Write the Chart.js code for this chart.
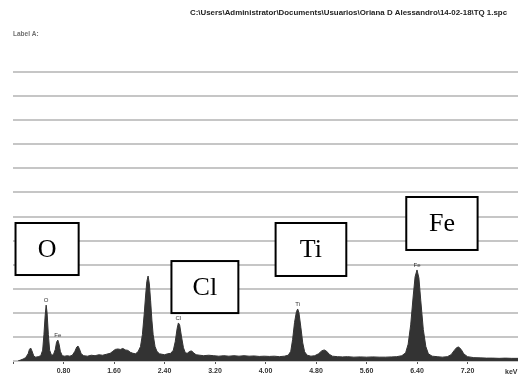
<!DOCTYPE html>
<html>
<head>
<meta charset="utf-8">
<script src="https://cdn.jsdelivr.net/npm/chart.js@4/dist/chart.umd.min.js"></script>
<style>
    body { margin: 0; background: #fff; }
    canvas { display: block; }
</style>
</head>
<body>
<canvas id="spectrum" width="518" height="376"></canvas>
<script>
// spectrum (keV / counts)
const energyKeV = [
    0.08, 0.12, 0.16, 0.20, 0.24, 0.26, 0.28, 0.30, 0.33, 0.36, 0.40, 0.44, 0.47, 0.49, 0.51, 0.525, 0.54, 0.56, 0.58,
    0.61, 0.64, 0.67, 0.69, 0.71, 0.73, 0.75, 0.78, 0.82, 0.86, 0.90, 0.94, 0.98, 1.01, 1.03, 1.05, 1.08, 1.12,
    1.18, 1.24, 1.30, 1.36, 1.42, 1.48, 1.54, 1.58, 1.62, 1.66, 1.70, 1.74, 1.78, 1.82, 1.86, 1.90, 1.94, 1.98,
    2.02, 2.05, 2.08, 2.10, 2.12, 2.14, 2.16, 2.18, 2.20, 2.22, 2.25, 2.28, 2.32, 2.36, 2.40, 2.45, 2.50, 2.54,
    2.57, 2.60, 2.62, 2.64, 2.67, 2.70, 2.73, 2.76, 2.80, 2.83, 2.86, 2.90, 2.96, 3.02, 3.10, 3.18, 3.26, 3.34,
    3.42, 3.50, 3.58, 3.66, 3.74, 3.82, 3.90, 3.98, 4.06, 4.14, 4.22, 4.30, 4.36, 4.40, 4.43, 4.46, 4.49, 4.51,
    4.53, 4.56, 4.59, 4.62, 4.66, 4.72, 4.78, 4.84, 4.89, 4.93, 4.97, 5.01, 5.06, 5.14, 5.22, 5.30, 5.40, 5.50,
    5.60, 5.70, 5.80, 5.90, 6.00, 6.08, 6.16, 6.22, 6.26, 6.30, 6.34, 6.37, 6.40, 6.43, 6.46, 6.50, 6.54, 6.58,
    6.64, 6.72, 6.80, 6.88, 6.94, 6.99, 7.03, 7.06, 7.10, 7.14, 7.20, 7.30, 7.40, 7.50, 7.60, 7.70, 7.80, 7.90, 8.00
];
const counts = [
    0, 4, 8, 14, 30, 48, 54, 42, 20, 16, 18, 22, 45, 110, 190, 232, 200, 110, 45,
    24, 26, 48, 78, 87, 70, 40, 22, 20, 22, 20, 24, 40, 58, 62, 52, 30, 22,
    20, 24, 22, 26, 24, 28, 32, 40, 48, 50, 48, 52, 46, 44, 36, 32, 30, 38,
    60, 110, 200, 270, 330, 353, 320, 250, 170, 110, 60, 40, 30, 28, 26, 30, 32, 45,
    80, 135, 158, 150, 100, 55, 34, 32, 40, 42, 34, 26, 24, 22, 24, 22, 20, 22,
    20, 22, 20, 22, 20, 21, 19, 20, 19, 20, 18, 20, 24, 40, 90, 160, 205, 216,
    200, 140, 75, 38, 24, 20, 22, 30, 42, 46, 40, 28, 20, 18, 17, 18, 16, 17,
    16, 17, 16, 16, 17, 18, 22, 34, 70, 150, 270, 350, 378, 345, 250, 130, 60, 30,
    20, 18, 16, 18, 26, 44, 56, 58, 48, 30, 18, 14, 13, 12, 12, 11, 12, 11, 11
];

// small peak markers
const peakNames = ["O", "Fe", "Cl", "Ti", "Fe"];
const peakEnergies = [0.525, 0.71, 2.62, 4.51, 6.40];
const peakCounts = [232, 87, 158, 216, 378];

// boxed element labels: [keV from, keV to] / [counts top, counts bottom]
const boxNames = ["O", "Cl", "Ti", "Fe"];
const boxKeV = [[0.04, 1.04], [2.51, 3.57], [4.16, 5.28], [6.23, 7.36]];
const boxCounts = [[573, 357], [415, 199], [573, 353], [681, 461]];

const titleText = "C:\\Users\\Administrator\\Documents\\Usuarios\\Oriana D Alessandro\\14-02-18\\TQ 1.spc";
const labelText = "Label A:";

const points = energyKeV.map((e, i) => ({ x: e, y: counts[i] }));

const overlay = {
    id: "overlay",
    afterDraw: (chart) => {
        const { ctx } = chart;
        const xs = chart.scales.x;
        const ys = chart.scales.y;
        ctx.save();
        // header texts
        ctx.fillStyle = "#222";
        ctx.font = "bold 7.9px 'Liberation Sans', Arial, sans-serif";
        ctx.textBaseline = "middle";
        ctx.textAlign = "left";
        ctx.fillText(titleText, 190, 13);
        ctx.fillStyle = "#6f6f6f";
        ctx.font = "bold 6.5px 'Liberation Sans', Arial, sans-serif";
        ctx.fillText(labelText, 13, 34);
        // keV unit at the right end of the axis
        ctx.fillStyle = "#333";
        ctx.font = "bold 7px 'Liberation Sans', Arial, sans-serif";
        ctx.textBaseline = "top";
        ctx.fillText("keV", 505, xs.top + 8);
        // small peak names
        ctx.textAlign = "center";
        ctx.textBaseline = "bottom";
        ctx.font = "6px 'Liberation Sans', Arial, sans-serif";
        peakNames.forEach((n, i) => {
            ctx.fillText(n, xs.getPixelForValue(peakEnergies[i]), ys.getPixelForValue(peakCounts[i]) - 2);
        });
        // boxed labels
        ctx.lineWidth = 2;
        ctx.strokeStyle = "#000";
        ctx.textBaseline = "middle";
        ctx.font = "26px 'Liberation Serif', 'Times New Roman', serif";
        boxNames.forEach((n, i) => {
            const x0 = xs.getPixelForValue(boxKeV[i][0]);
            const x1 = xs.getPixelForValue(boxKeV[i][1]);
            const y0 = ys.getPixelForValue(boxCounts[i][0]);
            const y1 = ys.getPixelForValue(boxCounts[i][1]);
            ctx.fillStyle = "#fff";
            ctx.fillRect(x0, y0, x1 - x0, y1 - y0);
            ctx.strokeRect(x0, y0, x1 - x0, y1 - y0);
            ctx.fillStyle = "#000";
            ctx.fillText(n, (x0 + x1) / 2, (y0 + y1) / 2 + 1);
        });
        ctx.restore();
    }
};

const chart = new Chart(document.getElementById("spectrum"), {
    type: "line",
    data: {
        datasets: [{
            data: points,
            borderColor: "#333",
            backgroundColor: "#333",
            borderWidth: 1,
            fill: "origin",
            pointRadius: 0,
            tension: 0
        }]
    },
    options: {
        responsive: false,
        animation: false,
        layout: { padding: { left: 13, right: 0, top: 72, bottom: 0 } },
        plugins: {
            legend: { display: false },
            tooltip: { enabled: false }
        },
        scales: {
            x: {
                type: "linear",
                min: 0,
                max: 8,
                border: { display: false },
                grid: {
                    drawOnChartArea: false,
                    drawTicks: true,
                    tickLength: 3,
                    color: "#555"
                },
                ticks: {
                    stepSize: 0.8,
                    padding: 3,
                    color: "#333",
                    font: { family: "'Liberation Sans', Arial, sans-serif", size: 7, weight: "bold" },
                    maxRotation: 0,
                    autoSkip: false,
                    callback: (v) => (v > 0.01 && v < 7.99) ? v.toFixed(2) : ""
                },
                afterFit: (scale) => {
                    // keep the plot flush with the window edges like the original
                    scale.height = 15;
                    scale.paddingLeft = 0;
                    scale.paddingRight = 0;
                }
            },
            y: {
                min: 0,
                max: 1200,
                border: { display: false },
                grid: {
                    drawTicks: false,
                    color: "#c6c6c6",
                    lineWidth: 2
                },
                ticks: { display: false, stepSize: 100 }
            }
        }
    },
    plugins: [overlay]
});
</script>
</body>
</html>
